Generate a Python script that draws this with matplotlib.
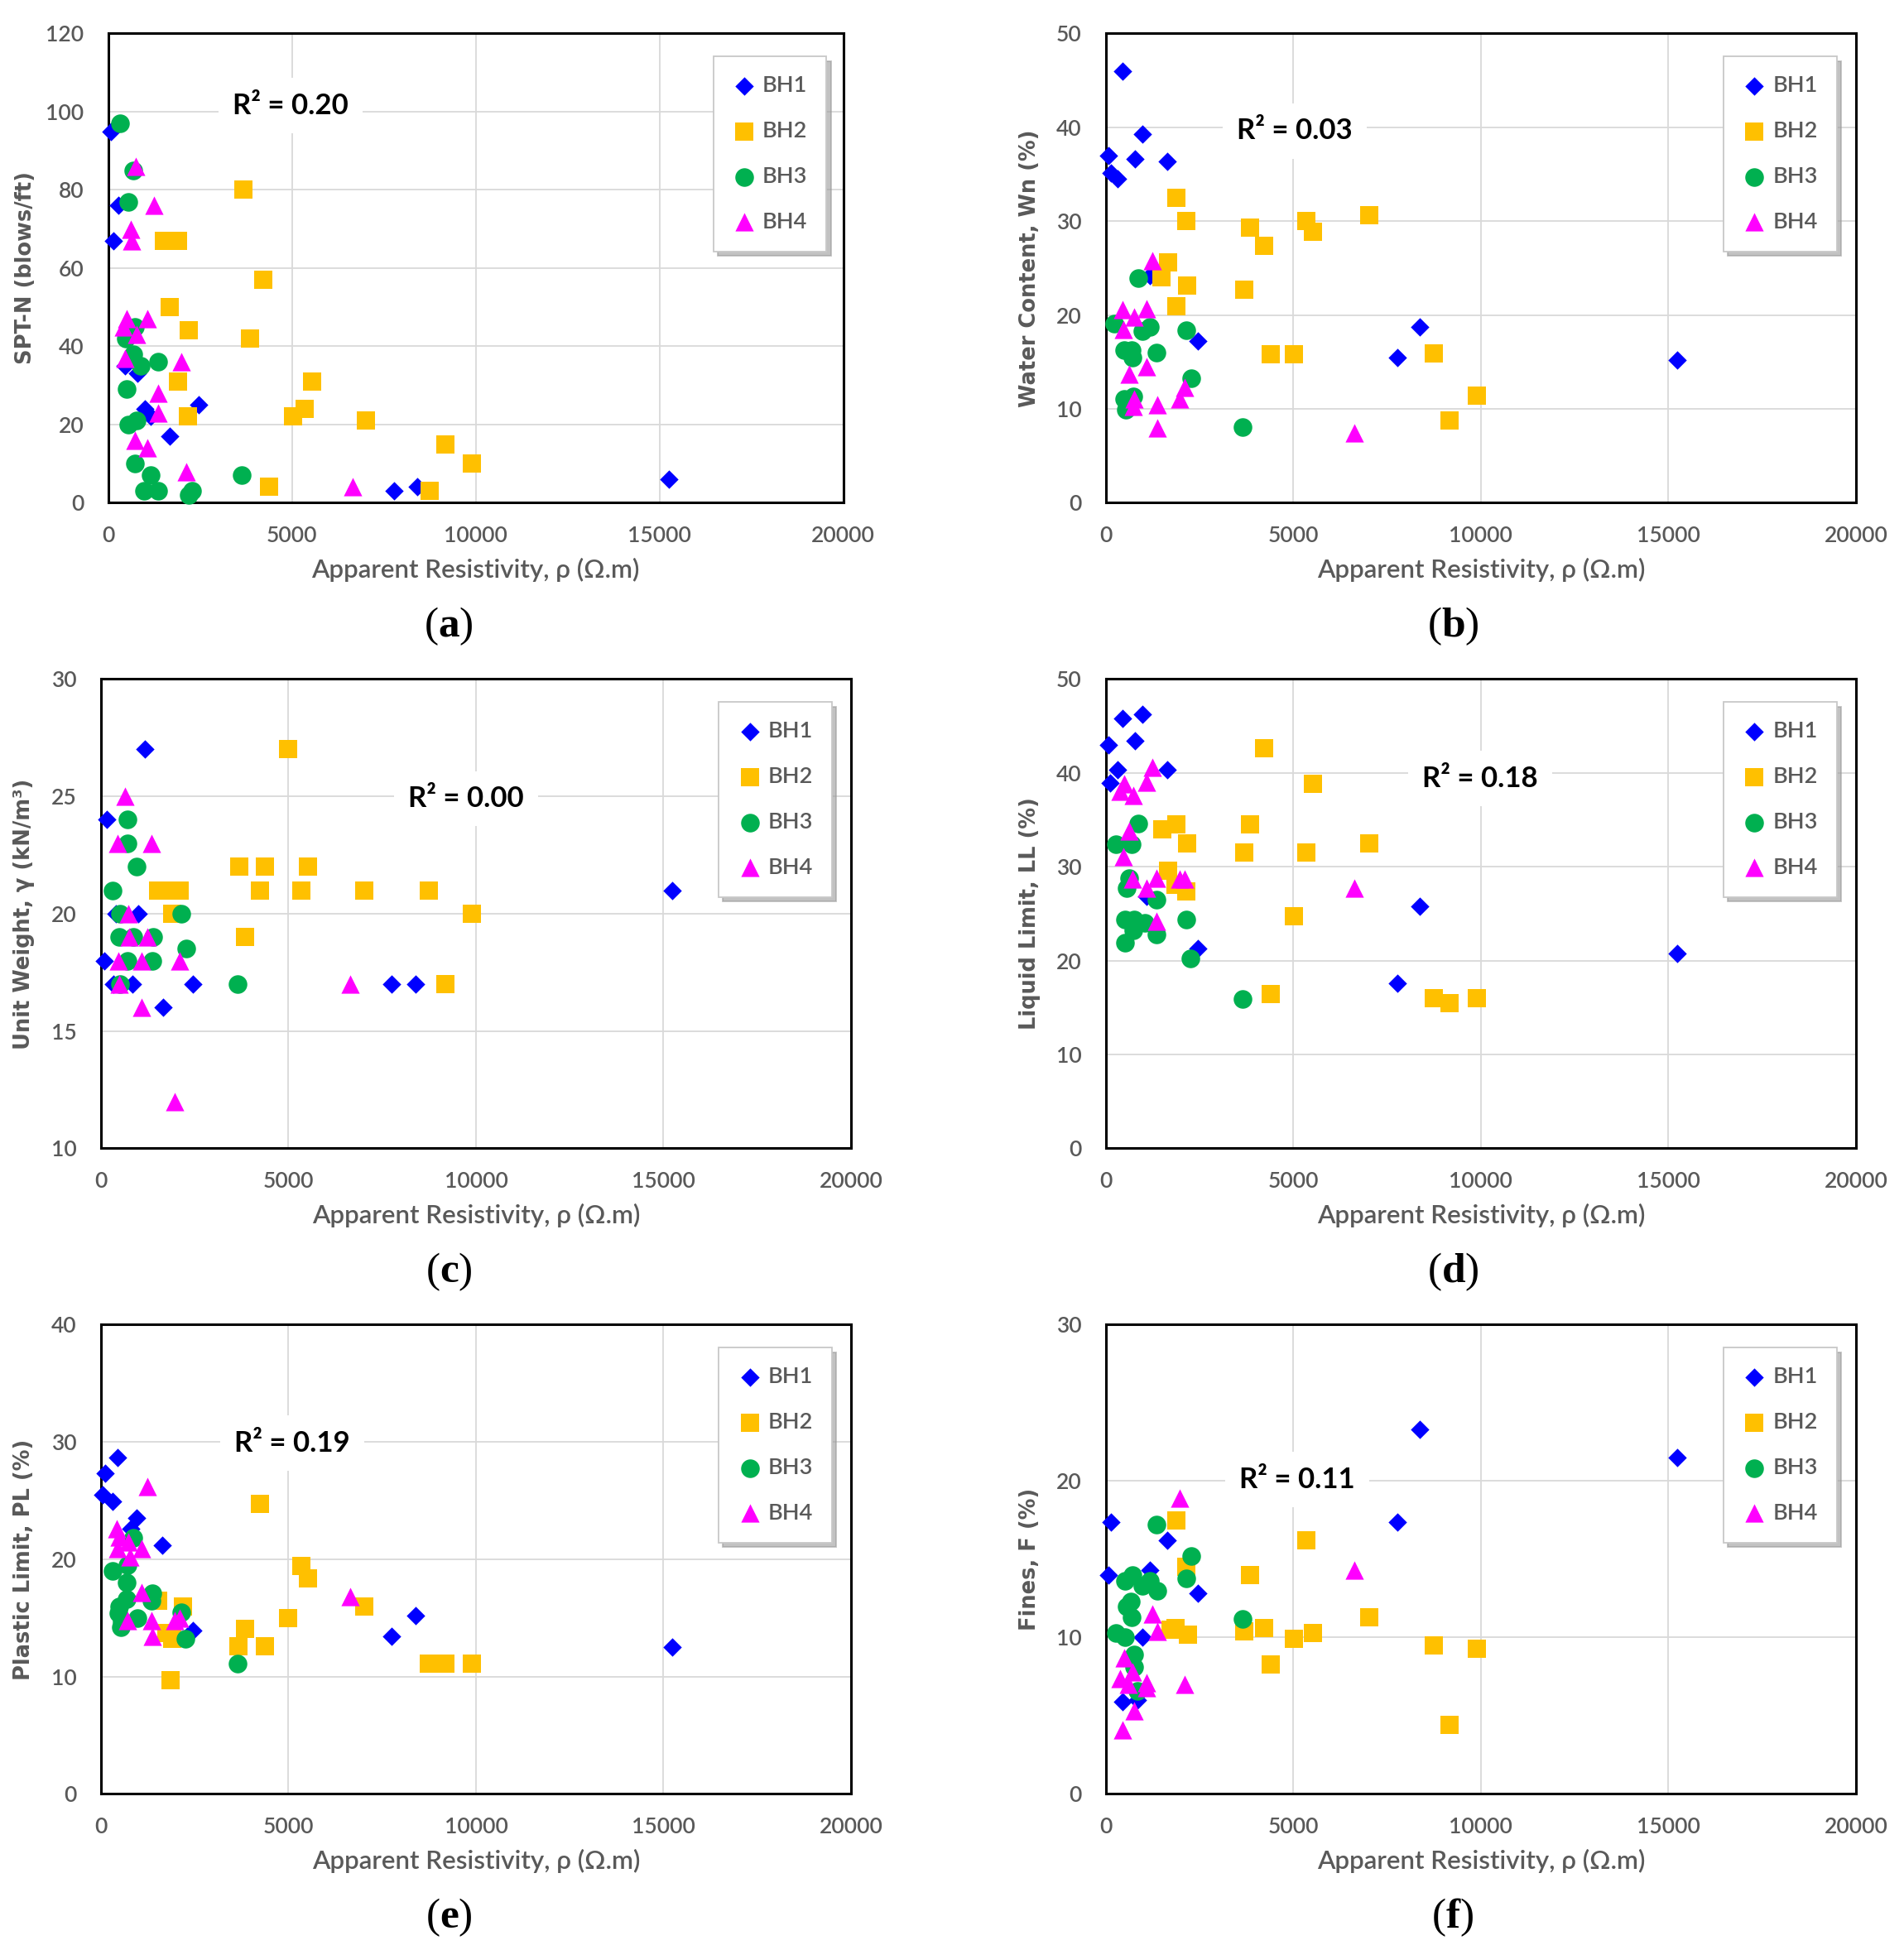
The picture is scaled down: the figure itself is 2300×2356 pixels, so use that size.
import matplotlib
matplotlib.use('Agg')
import matplotlib.pyplot as plt

plt.rcParams['mathtext.fontset'] = 'custom'
plt.rcParams['mathtext.rm'] = 'Liberation Serif'
plt.rcParams['mathtext.bf'] = 'Liberation Serif:bold'

# ---------------- data ----------------
SERIES = ['BH1', 'BH2', 'BH3', 'BH4']
XTICKS = [0, 5000, 10000, 15000, 20000]

# (a) SPT-N
A_BH1_X = [75, 270, 135, 450, 800, 1000, 1160, 1670, 2460, 7770, 8400, 15250]
A_BH1_Y = [95, 76, 67, 35, 33, 24, 22, 17, 25, 3, 4, 6]
A_BH2_X = [3680, 4220, 1520, 1890, 1670, 2190, 3850, 1890, 5540, 2160, 5020, 5350, 7010, 9170, 9890, 4370, 8750]
A_BH2_Y = [80, 57, 67, 67, 50, 44, 42, 31, 31, 22, 22, 24, 21, 15, 10, 4, 3]
A_BH3_X = [320, 680, 540, 720, 480, 680, 890, 1360, 500, 560, 770, 720, 1160, 970, 1370, 2190, 2280, 3640]
A_BH3_Y = [97, 85, 77, 45, 42, 38, 35, 36, 29, 20, 21, 10, 7, 3, 3, 2, 3, 7]
A_BH4_X = [750, 1240, 620, 650, 500, 1060, 410, 770, 450, 1980, 1370, 1370, 720, 1060, 2130, 6650]
A_BH4_Y = [86, 76, 70, 67, 47, 47, 45, 43, 37, 36, 28, 23, 16, 14, 8, 4]

# (b) Water content
B_BH1_X = [450, 970, 80, 790, 1650, 150, 310, 1180, 2460, 8380, 7770, 15240]
B_BH1_Y = [46, 39.3, 37, 36.6, 36.4, 35.1, 34.5, 24.2, 17.2, 18.7, 15.5, 15.2]
B_BH2_X = [1890, 2150, 3840, 4220, 5350, 5520, 7020, 1670, 1490, 2180, 3690, 1880, 4390, 5020, 8750, 9900, 9170]
B_BH2_Y = [32.5, 30, 29.3, 27.4, 30, 28.9, 30.6, 25.6, 24, 23.1, 22.7, 20.9, 15.8, 15.8, 15.9, 11.4, 8.8]
B_BH3_X = [870, 230, 1170, 970, 2140, 500, 700, 710, 1360, 2280, 500, 730, 530, 3660]
B_BH3_Y = [23.9, 19.1, 18.7, 18.3, 18.4, 16.3, 16.3, 15.5, 16.0, 13.3, 11.1, 11.3, 9.9, 8.1]
B_BH4_X = [1250, 440, 760, 1080, 470, 630, 1080, 760, 730, 1380, 1970, 2100, 1380, 6630]
B_BH4_Y = [25.8, 20.6, 19.8, 20.7, 18.5, 13.7, 14.5, 11.1, 10.3, 10.4, 11.1, 12.3, 8.0, 7.4]

# (c) Unit weight
C_BH1_X = [1180, 150, 1000, 410, 90, 340, 830, 2450, 1660, 7750, 8400, 15240]
C_BH1_Y = [27, 24, 20, 20, 18, 17, 17, 17, 16, 17, 17, 21]
C_BH2_X = [5000, 3680, 4380, 5530, 1520, 1820, 2110, 4230, 5340, 7020, 8750, 1890, 9890, 3840, 9180]
C_BH2_Y = [27, 22, 22, 22, 21, 21, 21, 21, 21, 21, 21, 20, 20, 19, 17]
C_BH3_X = [710, 710, 950, 310, 500, 2140, 490, 860, 1400, 2280, 710, 1370, 500, 3640]
C_BH3_Y = [24, 23, 22, 21, 20, 20, 19, 19, 19, 18.5, 18, 18, 17, 17]
C_BH4_X = [640, 440, 1350, 740, 750, 1230, 460, 1080, 2110, 490, 1080, 1970, 6650]
C_BH4_Y = [25, 23, 23, 20, 19, 19, 18, 18, 18, 17, 16, 12, 17]

# (d) Liquid limit
D_BH1_X = [80, 450, 970, 790, 310, 1650, 130, 1080, 2460, 8380, 7770, 15240]
D_BH1_Y = [43, 45.8, 46.2, 43.4, 40.3, 40.3, 38.9, 26.8, 21.3, 25.8, 17.6, 20.8]
D_BH2_X = [4220, 5520, 3840, 1500, 1890, 2180, 3690, 5350, 7020, 1670, 1860, 2150, 5020, 4390, 8750, 9170, 9900]
D_BH2_Y = [42.6, 38.8, 34.5, 34, 34.5, 32.5, 31.5, 31.5, 32.5, 29.6, 28.1, 27.4, 24.7, 16.4, 16, 15.5, 16]
D_BH3_X = [870, 270, 700, 630, 550, 1360, 520, 760, 1040, 730, 1360, 520, 2140, 2270, 3660]
D_BH3_Y = [34.6, 32.4, 32.4, 28.8, 27.7, 26.5, 24.4, 24.4, 24, 23.2, 22.8, 21.9, 24.4, 20.2, 15.9]
D_BH4_X = [1250, 490, 1080, 390, 730, 630, 470, 710, 1080, 1360, 1970, 2100, 1360, 6630]
D_BH4_Y = [40.6, 38.8, 39, 38, 37.6, 33.8, 31.1, 28.7, 27.7, 28.8, 28.7, 28.7, 24.2, 27.7]

# (e) Plastic limit
E_BH1_X = [440, 120, 40, 310, 960, 790, 1640, 2450, 7750, 8400, 15240]
E_BH1_Y = [28.7, 27.3, 25.5, 24.9, 23.5, 22.6, 21.2, 13.9, 13.4, 15.2, 12.5]
E_BH2_X = [4230, 5340, 5530, 7020, 5000, 3840, 3670, 4380, 1520, 2180, 1890, 1740, 1850, 8750, 9180, 9890]
E_BH2_Y = [24.7, 19.4, 18.4, 16, 15, 14.1, 12.6, 12.6, 16.5, 16, 13.2, 13.7, 9.7, 11.1, 11.1, 11.1]
E_BH3_X = [310, 710, 860, 680, 1370, 1340, 680, 490, 460, 560, 530, 970, 2140, 2260, 3640]
E_BH3_Y = [19, 19.5, 21.8, 18, 17.1, 16.5, 16.6, 16, 15.4, 14.7, 14.2, 15, 15.5, 13.2, 11.1]
E_BH4_X = [1230, 420, 490, 740, 440, 780, 1080, 1080, 710, 1350, 1970, 2110, 1370, 6650]
E_BH4_Y = [26.2, 22.6, 21.9, 21.5, 20.9, 20.2, 20.9, 17.2, 14.8, 14.8, 14.8, 15, 13.4, 16.8]

# (f) Fines
F_BH1_X = [8380, 15240, 150, 7770, 1650, 80, 1180, 2460, 970, 450, 840]
F_BH1_Y = [23.3, 21.5, 17.4, 17.4, 16.2, 14, 14.3, 12.8, 10, 5.9, 6]
F_BH2_X = [1890, 5350, 2150, 3840, 7020, 1720, 1860, 3690, 4220, 2200, 5020, 5520, 8750, 9900, 4390, 9170]
F_BH2_Y = [17.5, 16.2, 14.5, 14, 11.3, 10.5, 10.6, 10.4, 10.6, 10.2, 9.9, 10.3, 9.5, 9.3, 8.3, 4.4]
F_BH3_X = [1360, 2280, 2140, 710, 520, 970, 1170, 1380, 660, 570, 700, 3660, 270, 520, 760, 760, 840]
F_BH3_Y = [17.2, 15.2, 13.8, 14, 13.6, 13.3, 13.6, 13, 12.3, 12, 11.3, 11.2, 10.3, 10, 8.9, 8.1, 6.6]
F_BH4_X = [1970, 1250, 1380, 490, 390, 710, 600, 1080, 1080, 2100, 760, 450, 6630]
F_BH4_Y = [18.9, 11.5, 10.4, 8.7, 7.4, 7.8, 7, 7.1, 6.8, 7, 5.3, 4.1, 14.3]

YLABELS = ['SPT-N (blows/ft)', 'Water Content, Wn (%)', 'Unit Weight, γ (kN/m³)',
           'Liquid Limit, LL (%)', 'Plastic Limit, PL (%)', 'Fines, F (%)']
R2_TEXT = ['R² = 0.20', 'R² = 0.03', 'R² = 0.00', 'R² = 0.18', 'R² = 0.19', 'R² = 0.11']
PANEL_LETTERS = ['a', 'b', 'c', 'd', 'e', 'f']
YLIMS = [(0, 120), (0, 50), (10, 30), (0, 50), (0, 40), (0, 30)]
YSTEPS = [20, 10, 5, 10, 10, 10]

# ---------------- style ----------------
COLORS = ['#0000FF', '#FFC000', '#00B050', '#FF00FF']
MARKERS = ['D', 's', 'o', '^']
MSIZES = [11.4, 16.0, 16.2, 16.0]
GRAY = '#595959'
TICKFONT = dict(family='Lato', size=19, weight='semibold')

W, H = 2300, 2356
fig = plt.figure(figsize=(W / 100, H / 100), dpi=100)

# axes boxes in pixels (left, right, top, bottom)
BOXES = [(130.6, 1018.7, 40.4, 607.4), (1335.6, 2242, 40.4, 607.4),
         (121.9, 1028, 820.4, 1387.4), (1335.6, 2242, 820.4, 1387.4),
         (121.9, 1028, 1600.4, 2167.4), (1335.6, 2242, 1600.4, 2167.4)]
YLAB_X = [-0.097, -0.087, -0.088, -0.087, -0.088, -0.087]
R2_POS = [(4963, 101.5), (5040, 39.6), (9730, 24.9), (9980, 39.4), (5100, 29.9), (5100, 20.1)]
LETTER_POS = [(542, 757), (1755, 757), (542, 1537), (1755, 1537), (542, 2317), (1755, 2317)]

DATA = [
    [(A_BH1_X, A_BH1_Y), (A_BH2_X, A_BH2_Y), (A_BH3_X, A_BH3_Y), (A_BH4_X, A_BH4_Y)],
    [(B_BH1_X, B_BH1_Y), (B_BH2_X, B_BH2_Y), (B_BH3_X, B_BH3_Y), (B_BH4_X, B_BH4_Y)],
    [(C_BH1_X, C_BH1_Y), (C_BH2_X, C_BH2_Y), (C_BH3_X, C_BH3_Y), (C_BH4_X, C_BH4_Y)],
    [(D_BH1_X, D_BH1_Y), (D_BH2_X, D_BH2_Y), (D_BH3_X, D_BH3_Y), (D_BH4_X, D_BH4_Y)],
    [(E_BH1_X, E_BH1_Y), (E_BH2_X, E_BH2_Y), (E_BH3_X, E_BH3_Y), (E_BH4_X, E_BH4_Y)],
    [(F_BH1_X, F_BH1_Y), (F_BH2_X, F_BH2_Y), (F_BH3_X, F_BH3_Y), (F_BH4_X, F_BH4_Y)],
]

for i in range(6):
    l, r, t, b = BOXES[i]
    ax = fig.add_axes([l / W, 1 - b / H, (r - l) / W, (b - t) / H])
    ylo, yhi = YLIMS[i]
    ax.set_xlim(0, 20000)
    ax.set_ylim(ylo, yhi)
    ax.set_xticks(XTICKS)
    ax.set_yticks(list(range(ylo, yhi + 1, YSTEPS[i])))
    ax.grid(True, color='#D9D9D9', linewidth=1.3)
    ax.set_axisbelow(True)
    for sp in ax.spines.values():
        sp.set_color('black')
        sp.set_linewidth(2.2)
    ax.tick_params(axis='both', length=0, labelcolor=GRAY)
    ax.tick_params(axis='x', pad=20)
    ax.tick_params(axis='y', pad=21)
    for lab in ax.get_xticklabels() + ax.get_yticklabels():
        lab.set_fontfamily(TICKFONT['family'])
        lab.set_fontsize(TICKFONT['size'])
        lab.set_fontweight(TICKFONT['weight'])

    for k in range(4):
        xs, ys = DATA[i][k]
        ax.scatter(xs, ys, marker=MARKERS[k], s=MSIZES[k] ** 2, c=COLORS[k],
                   linewidths=0, label=SERIES[k], zorder=3 + k, clip_on=False)

    ax.set_xlabel('Apparent Resistivity, ρ (Ω.m)', family='Lato', fontsize=22.5,
                  weight='semibold', color=GRAY)
    ax.xaxis.set_label_coords(0.5, -0.118)
    ax.set_ylabel(YLABELS[i], family='DejaVu Sans', fontsize=18.5, weight='bold', color=GRAY)
    ax.yaxis.set_label_coords(YLAB_X[i], 0.5)

    rx, ry = R2_POS[i]
    ax.text(rx, ry, R2_TEXT[i], ha='center', va='center', family='Lato', fontsize=25,
            weight='bold', color='black', zorder=2,
            bbox=dict(boxstyle='square,pad=0.5', fc='white', ec='none'))

    leg = ax.legend(loc='upper left', bbox_to_anchor=(0.823, 0.951), frameon=True,
                    fancybox=False, framealpha=1, edgecolor='#C8C8C8',
                    shadow={'ox': 4, 'oy': -4, 'color': '#9A9A9A', 'alpha': 0.6},
                    prop=dict(family='Lato', size=19.5, weight='semibold'),
                    labelcolor=GRAY, borderpad=0.85, labelspacing=1.1,
                    handlelength=1.1, handletextpad=0.25, borderaxespad=0,
                    scatterpoints=1)
    leg.get_frame().set_linewidth(1.3)
    leg.set_zorder(10)

    lx, ly = LETTER_POS[i]
    fig.text(lx / W, 1 - ly / H, '(' + r'$\mathbf{' + PANEL_LETTERS[i] + '}$' + ')',
             family='Liberation Serif', fontsize=37, ha='center', va='center')

fig.savefig('out.png', dpi=100, facecolor='white')
